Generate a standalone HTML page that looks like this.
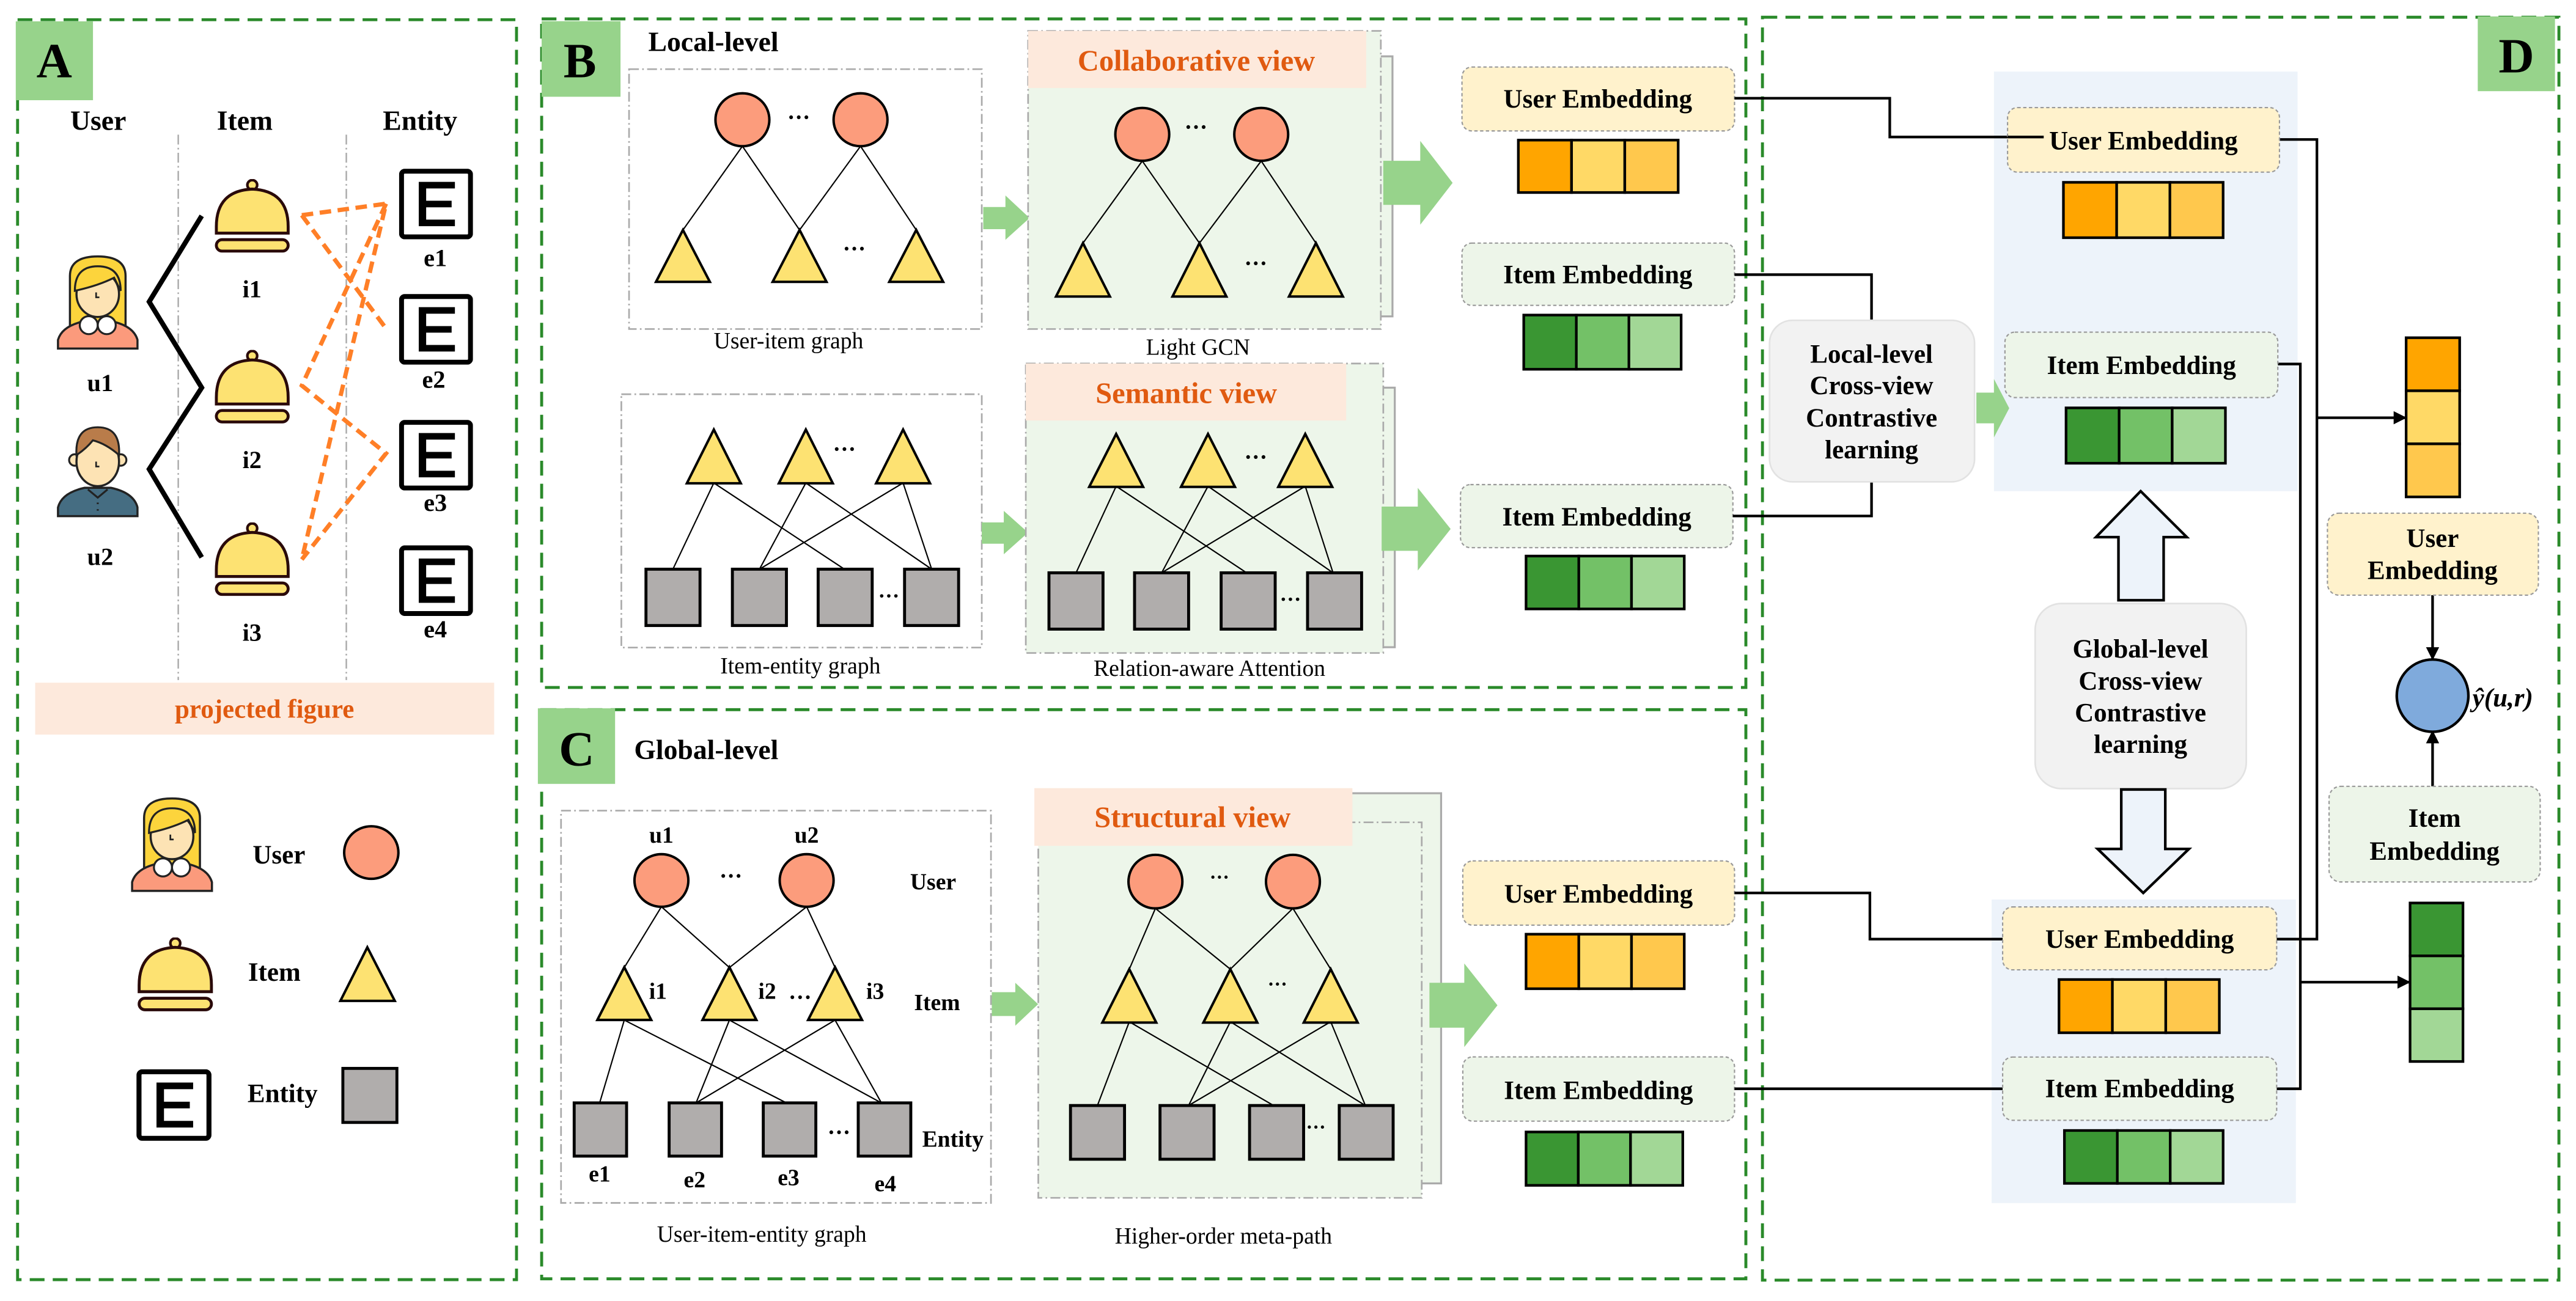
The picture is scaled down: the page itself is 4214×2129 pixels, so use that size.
<!DOCTYPE html>
<html><head><meta charset="utf-8"><style>
html,body{margin:0;padding:0;background:#fff;}
svg{display:block;}
text{font-family:"Liberation Serif",serif;}
.b{font-weight:bold;}
</style></head><body>
<svg width="4214" height="2129" viewBox="0 0 1568 792" preserveAspectRatio="none" xmlns="http://www.w3.org/2000/svg">
<defs>
<symbol id="fem" viewBox="0 0 50 58">
<path d="M8 44 V13 Q8 1 25 1 Q42 1 42 13 V44 Z" fill="#fcd43c" stroke="#222" stroke-width="1.3"/>
<path d="M0.7 57.3 V52 Q3 44 15 41 H35 Q47 44 49.3 52 V57.3 Z" fill="#fb9a7c" stroke="#222" stroke-width="1.3"/>
<ellipse cx="25" cy="24" rx="13" ry="14" fill="#fde3b4" stroke="#222" stroke-width="1.3"/>
<path d="M11 22 Q11 7 25 7 Q39 7 39 22 L35 14 Q25 19 11 22Z" fill="#fcd43c" stroke="#222" stroke-width="1.2"/>
<circle cx="19.5" cy="43" r="5.5" fill="#fff" stroke="#222" stroke-width="1.2"/>
<circle cx="30.5" cy="43" r="5.5" fill="#fff" stroke="#222" stroke-width="1.2"/>
<path d="M24 23 v3 h2" fill="none" stroke="#222" stroke-width="1"/>
</symbol>
<symbol id="mal" viewBox="0 0 50 58">
<path d="M0.7 57.3 V52 Q3 43 17 40 H33 Q47 43 49.3 52 V57.3 Z" fill="#456d82" stroke="#222" stroke-width="1.3"/>
<circle cx="11" cy="23" r="3.5" fill="#fde3b4" stroke="#222" stroke-width="1.2"/>
<circle cx="39" cy="23" r="3.5" fill="#fde3b4" stroke="#222" stroke-width="1.2"/>
<ellipse cx="25" cy="24" rx="13" ry="15" fill="#fde3b4" stroke="#222" stroke-width="1.3"/>
<path d="M12 20 Q11 3 25 3 Q39 3 38 20 Q30 13 22 11 Q18 16 12 20Z" fill="#b97c4a" stroke="#222" stroke-width="1.2"/>
<path d="M19 41 L25 46 L31 41 M25 49 v1 M25 53 v1" fill="none" stroke="#222" stroke-width="1.2"/>
<path d="M24 24 v3 h2" fill="none" stroke="#222" stroke-width="1"/>
</symbol>
<symbol id="bell" viewBox="0 0 46 45">
<circle cx="23" cy="3.5" r="3" fill="#fde272" stroke="#2a0a0a" stroke-width="1.6"/>
<path d="M1 33 V29 Q1 7 23 6 Q45 7 45 29 V33 Z" fill="#fde272" stroke="#2a0a0a" stroke-width="1.8"/>
<rect x="1" y="37" width="44" height="7" rx="3.5" fill="#fde272" stroke="#2a0a0a" stroke-width="1.8"/>
</symbol>
<symbol id="ebox" viewBox="0 0 45 43">
<rect x="1.5" y="1.5" width="42" height="40" rx="2" fill="#fff" stroke="#000" stroke-width="3"/>
<path d="M12 8 H34 V12 H16.5 V19.5 H32 V23.5 H16.5 V31 H34 V35 H12 Z" fill="#000"/>
</symbol>
<marker id="ah" markerWidth="8" markerHeight="8" refX="7" refY="4" orient="auto" markerUnits="userSpaceOnUse"><path d="M0 0 L8 4 L0 8Z" fill="#000"/></marker>
</defs>

<!-- Panel borders -->
<g fill="none" stroke="#2a8a2a" stroke-width="1.8" stroke-dasharray="9 5">
<rect x="10.7" y="12" width="303.7" height="767"/>
<rect x="329.7" y="11.5" width="733" height="407"/>
<rect x="329.7" y="432" width="733" height="346.5"/>
<rect x="1072.8" y="10.5" width="484.8" height="768.8"/>
</g>
<rect x="9.6" y="13" width="47" height="48" fill="#97d38b"/>
<text x="33" y="47" font-size="30" class="b" text-anchor="middle">A</text>
<rect x="329.7" y="12.9" width="48" height="46" fill="#97d38b"/>
<text x="353" y="47" font-size="30" class="b" text-anchor="middle">B</text>
<rect x="327.4" y="431.2" width="47" height="46" fill="#97d38b"/>
<text x="351" y="466" font-size="30" class="b" text-anchor="middle">C</text>
<rect x="1508.2" y="10" width="47" height="45.5" fill="#97d38b"/>
<text x="1531.7" y="44" font-size="30" class="b" text-anchor="middle">D</text>

<!-- Panel A -->
<g font-size="17" class="b" text-anchor="middle">
<text x="59.8" y="79">User</text><text x="149" y="79">Item</text><text x="255.7" y="79">Entity</text>
</g>
<g stroke="#aaa" stroke-width="0.9" stroke-dasharray="6 2 1 2">
<line x1="108.5" y1="82" x2="108.5" y2="414"/><line x1="210.8" y1="82" x2="210.8" y2="414"/>
</g>
<use href="#fem" x="34.6" y="155" width="49.8" height="58"/>
<use href="#mal" x="34.6" y="257" width="49.8" height="58"/>
<g font-size="15" class="b" text-anchor="middle">
<text x="61" y="238">u1</text><text x="61" y="344">u2</text>
<text x="153.4" y="181">i1</text><text x="153.4" y="285">i2</text><text x="153.4" y="390">i3</text>
<text x="265" y="162">e1</text><text x="264" y="236">e2</text><text x="265" y="311">e3</text><text x="265" y="388">e4</text>
</g>
<polyline points="122.8,131.4 90.8,183.7 122.8,236 90.8,285.6 122.8,339.3" fill="none" stroke="#000" stroke-width="3"/>
<use href="#bell" x="130.7" y="109" width="45.7" height="45"/>
<use href="#bell" x="130.7" y="213" width="45.7" height="45"/>
<use href="#bell" x="130.7" y="318" width="45.7" height="45"/>
<use href="#ebox" x="242.9" y="102.7" width="45" height="43"/>
<use href="#ebox" x="242.9" y="179" width="45" height="43"/>
<use href="#ebox" x="242.9" y="255.6" width="45" height="43"/>
<use href="#ebox" x="242.9" y="332" width="45" height="43"/>
<g fill="none" stroke="#ff7f27" stroke-width="2.6" stroke-dasharray="7 4">
<polyline points="183.7,131 235,124 183.7,340.6"/>
<line x1="183.7" y1="131" x2="235" y2="200"/>
<polyline points="235,124 183.7,234.7 235,276 183.7,340.6"/>
</g>
<rect x="21.4" y="415.6" width="279.4" height="31.6" fill="#fde9dc"/>
<text x="161" y="437" font-size="16" class="b" fill="#e05a10" text-anchor="middle">projected figure</text>
<use href="#fem" x="79.7" y="484.8" width="50" height="58.5"/>
<text x="169.8" y="525.6" font-size="16" class="b" text-anchor="middle">User</text>
<ellipse cx="226" cy="519" rx="16.5" ry="16" fill="#fc9c7c" stroke="#000" stroke-width="1.5"/>
<use href="#bell" x="83.7" y="570.7" width="46" height="45"/>
<text x="167" y="597" font-size="16" class="b" text-anchor="middle">Item</text>
<path d="M223.6 576.7 L240.3 609.3 H207.2 Z" fill="#fde272" stroke="#000" stroke-width="1.5"/>
<use href="#ebox" x="82.9" y="650.9" width="46" height="43.6"/>
<text x="172" y="671" font-size="16" class="b" text-anchor="middle">Entity</text>
<rect x="208.7" y="650.4" width="32.9" height="32.9" fill="#b0adac" stroke="#000" stroke-width="1.8"/>

<!-- Panel B -->
<text x="394.6" y="31" font-size="17" class="b">Local-level</text>
<rect x="382.9" y="42.1" width="214.7" height="158.2" fill="none" stroke="#aaa" stroke-width="1" stroke-dasharray="6 2 1 2"/>
<text x="480" y="212" font-size="14" text-anchor="middle">User-item graph</text>
<g stroke="#000" stroke-width="0.8">
<line x1="451.9" y1="89" x2="415.7" y2="140"/><line x1="451.9" y1="89" x2="486.7" y2="140"/>
<line x1="523.8" y1="89" x2="486.7" y2="140"/><line x1="523.8" y1="89" x2="557.7" y2="140"/>
</g>
<g fill="#fc9c7c" stroke="#000" stroke-width="1.5">
<ellipse cx="451.9" cy="72.9" rx="16.4" ry="16.1"/><ellipse cx="523.8" cy="72.9" rx="16.4" ry="16.1"/>
</g>
<g fill="#fde272" stroke="#000" stroke-width="1.5">
<path d="M415.7 140 L432.1 171.6 H399.3Z"/><path d="M486.7 140 L503.1 171.6 H470.3Z"/><path d="M557.7 140 L574.1 171.6 H541.3Z"/>
</g>
<text x="486.2" y="76" font-size="14" class="b" text-anchor="middle">···</text>
<text x="520" y="156" font-size="14" class="b" text-anchor="middle">···</text>
<path d="M598.5 126 H612 V119 L626.7 132.7 L612 146 V139.5 H598.5Z" fill="#97d38b"/>
<!-- collaborative -->
<rect x="633" y="34.3" width="214.6" height="158.3" fill="#edf6ea" stroke="#aaa" stroke-width="1.2"/>
<rect x="625.8" y="18.8" width="214.7" height="181.5" fill="#edf6ea" stroke="#aaa" stroke-width="1" stroke-dasharray="6 2 1 2"/>
<rect x="625.8" y="18.8" width="205.8" height="34.8" fill="#fde9dc"/>
<text x="728.2" y="43" font-size="18" class="b" fill="#e05a10" text-anchor="middle">Collaborative view</text>
<g stroke="#000" stroke-width="0.8">
<line x1="695.3" y1="98" x2="659.2" y2="148"/><line x1="695.3" y1="98" x2="730.1" y2="148"/>
<line x1="767.7" y1="98" x2="730.1" y2="148"/><line x1="767.7" y1="98" x2="801" y2="148"/>
</g>
<g fill="#fc9c7c" stroke="#000" stroke-width="1.5">
<ellipse cx="695.3" cy="81.8" rx="16.4" ry="16.1"/><ellipse cx="767.7" cy="81.8" rx="16.4" ry="16.1"/>
</g>
<g fill="#fde272" stroke="#000" stroke-width="1.5">
<path d="M659.2 148 L675.6 180.5 H642.8Z"/><path d="M730.1 148 L746.5 180.5 H713.7Z"/><path d="M801 148 L817.4 180.5 H784.6Z"/>
</g>
<text x="728" y="82" font-size="14" class="b" text-anchor="middle">···</text>
<text x="764.4" y="165" font-size="14" class="b" text-anchor="middle">···</text>
<text x="729.2" y="216" font-size="14" text-anchor="middle">Light GCN</text>
<path d="M842 97.9 H864.5 V85.8 L884.2 111.3 L864.5 136.8 V124.7 H842Z" fill="#97d38b"/>
<rect x="889.9" y="40.8" width="165.9" height="38.9" rx="6" fill="#fff2cc" stroke="#999" stroke-width="0.8" stroke-dasharray="2 1.5"/>
<text x="972.6" y="65.5" font-size="16" class="b" text-anchor="middle">User Embedding</text>
<g stroke="#000" stroke-width="1.6"><rect x="924.2" y="85.3" width="32.4" height="31.9" fill="#ffa500"/><rect x="956.6" y="85.3" width="32.4" height="31.9" fill="#ffd966"/><rect x="989" y="85.3" width="32.5" height="31.9" fill="#ffc84d"/></g>
<rect x="889.9" y="148" width="165.9" height="37.9" rx="6" fill="#edf5e9" stroke="#999" stroke-width="0.8" stroke-dasharray="2 1.5"/>
<text x="972.6" y="172.5" font-size="16" class="b" text-anchor="middle">Item Embedding</text>
<g stroke="#000" stroke-width="1.6"><rect x="927.5" y="191.8" width="32" height="33" fill="#3a9633"/><rect x="959.5" y="191.8" width="32" height="33" fill="#73c167"/><rect x="991.5" y="191.8" width="31.8" height="33" fill="#a2d796"/></g>
<!-- item-entity -->
<rect x="378.2" y="240" width="219.4" height="154.2" fill="none" stroke="#aaa" stroke-width="1" stroke-dasharray="6 2 1 2"/>
<text x="487.2" y="410" font-size="14" text-anchor="middle">Item-entity graph</text>
<g stroke="#000" stroke-width="0.8">
<line x1="434.5" y1="294" x2="409.6" y2="346.5"/><line x1="434.5" y1="294" x2="514" y2="346.5"/>
<line x1="490.5" y1="294" x2="462.3" y2="346.5"/><line x1="490.5" y1="294" x2="567.1" y2="346.5"/>
<line x1="549.7" y1="294" x2="462.3" y2="346.5"/><line x1="549.7" y1="294" x2="567.1" y2="346.5"/>
</g>
<g fill="#fde272" stroke="#000" stroke-width="1.5">
<path d="M434.5 261.5 L450.9 294.2 H418.1Z"/><path d="M490.5 261.5 L506.9 294.2 H474.1Z"/><path d="M549.7 261.5 L566.1 294.2 H533.3Z"/>
</g>
<g fill="#b0adac" stroke="#000" stroke-width="1.8">
<rect x="393.2" y="346.5" width="32.9" height="34.3"/><rect x="445.8" y="346.5" width="32.9" height="34.3"/><rect x="498" y="346.5" width="32.9" height="34.3"/><rect x="550.6" y="346.5" width="32.9" height="34.3"/>
</g>
<text x="514" y="278" font-size="14" class="b" text-anchor="middle">···</text>
<text x="541" y="367" font-size="13" class="b" text-anchor="middle">···</text>
<path d="M597.6 318 H611 V311 L625.8 324.2 L611 337.4 V331 H597.6Z" fill="#97d38b"/>
<!-- semantic -->
<rect x="631" y="236" width="218" height="158" fill="#edf6ea" stroke="#aaa" stroke-width="1.2"/>
<rect x="624.4" y="221.3" width="217.6" height="176.2" fill="#edf6ea" stroke="#aaa" stroke-width="1" stroke-dasharray="6 2 1 2"/>
<rect x="624.4" y="221.3" width="195" height="34.7" fill="#fde9dc"/>
<text x="722.1" y="245.4" font-size="18" class="b" fill="#e05a10" text-anchor="middle">Semantic view</text>
<g stroke="#000" stroke-width="0.8">
<line x1="679.4" y1="296" x2="655" y2="348.7"/><line x1="679.4" y1="296" x2="758.8" y2="348.7"/>
<line x1="735.3" y1="296" x2="707.1" y2="348.7"/><line x1="735.3" y1="296" x2="811.4" y2="348.7"/>
<line x1="794.5" y1="296" x2="707.1" y2="348.7"/><line x1="794.5" y1="296" x2="811.4" y2="348.7"/>
</g>
<g fill="#fde272" stroke="#000" stroke-width="1.5">
<path d="M679.4 264.2 L695.8 296.4 H663Z"/><path d="M735.3 264.2 L751.7 296.4 H718.9Z"/><path d="M794.5 264.2 L810.9 296.4 H778.1Z"/>
</g>
<g fill="#b0adac" stroke="#000" stroke-width="1.8">
<rect x="638.5" y="348.7" width="32.9" height="34.3"/><rect x="690.6" y="348.7" width="32.9" height="34.3"/><rect x="743.3" y="348.7" width="32.9" height="34.3"/><rect x="795.9" y="348.7" width="32.9" height="34.3"/>
</g>
<text x="764.4" y="283" font-size="14" class="b" text-anchor="middle">···</text>
<text x="785.5" y="369" font-size="13" class="b" text-anchor="middle">···</text>
<text x="736.2" y="411.5" font-size="14" text-anchor="middle">Relation-aware Attention</text>
<path d="M841 308.4 H863 V297 L883 322 L863 347.3 V335.3 H841Z" fill="#97d38b"/>
<rect x="889" y="295" width="165.8" height="38.4" rx="6" fill="#edf5e9" stroke="#999" stroke-width="0.8" stroke-dasharray="2 1.5"/>
<text x="972" y="320" font-size="16" class="b" text-anchor="middle">Item Embedding</text>
<g stroke="#000" stroke-width="1.6"><rect x="928.9" y="338.5" width="32.1" height="32.2" fill="#3a9633"/><rect x="961" y="338.5" width="32.1" height="32.2" fill="#73c167"/><rect x="993.1" y="338.5" width="32.1" height="32.2" fill="#a2d796"/></g>

<!-- Panel C -->
<text x="386" y="462" font-size="17" class="b">Global-level</text>
<rect x="341.5" y="493.5" width="261.7" height="238.8" fill="none" stroke="#aaa" stroke-width="1" stroke-dasharray="6 2 1 2"/>
<text x="463.7" y="756" font-size="14" text-anchor="middle">User-item-entity graph</text>
<g font-size="14" class="b" text-anchor="middle">
<text x="402.6" y="513">u1</text><text x="491" y="513">u2</text>
<text x="568" y="541.4">User</text><text x="570.4" y="615">Item</text><text x="580" y="698">Entity</text>
<text x="365" y="719.3">e1</text><text x="422.8" y="722.8">e2</text><text x="480" y="721.6">e3</text><text x="538.9" y="725.2">e4</text>
<text x="400.5" y="608">i1</text><text x="467" y="608">i2</text><text x="487" y="608">…</text><text x="532.7" y="608">i3</text>
<text x="444.9" y="538">···</text><text x="510.7" y="694">···</text>
</g>
<g stroke="#000" stroke-width="0.8">
<line x1="402.6" y1="552" x2="380" y2="589"/><line x1="402.6" y1="552" x2="444" y2="589"/>
<line x1="491" y1="552" x2="444" y2="589"/><line x1="491" y1="552" x2="508.3" y2="589"/>
<line x1="380" y1="621" x2="365" y2="671.4"/><line x1="380" y1="621" x2="478.7" y2="671.4"/>
<line x1="444" y1="621" x2="423.7" y2="671.4"/><line x1="444" y1="621" x2="536.5" y2="671.4"/>
<line x1="508.3" y1="621" x2="423.7" y2="671.4"/><line x1="508.3" y1="621" x2="536.5" y2="671.4"/>
</g>
<g fill="#fc9c7c" stroke="#000" stroke-width="1.5">
<ellipse cx="402.6" cy="536" rx="16.4" ry="16"/><ellipse cx="491" cy="536" rx="16.4" ry="16"/>
</g>
<g fill="#fde272" stroke="#000" stroke-width="1.5">
<path d="M380 588.8 L396.4 620.9 H363.6Z"/><path d="M444 588.8 L460.4 620.9 H427.6Z"/><path d="M508.3 588.8 L524.7 620.9 H491.9Z"/>
</g>
<g fill="#b0adac" stroke="#000" stroke-width="1.8">
<rect x="349.5" y="671.4" width="31.9" height="32.4"/><rect x="407.3" y="671.4" width="31.9" height="32.4"/><rect x="464.6" y="671.4" width="32" height="32.4"/><rect x="522.4" y="671.4" width="32" height="32.4"/>
</g>
<path d="M603.7 604 H618 V598.3 L631.9 611.3 L618 624.4 V618.5 H603.7Z" fill="#97d38b"/>
<!-- structural -->
<rect x="638" y="482.9" width="239.2" height="237.5" fill="#edf6ea" stroke="#aaa" stroke-width="1.2"/>
<rect x="632" y="500.6" width="233.4" height="228.6" fill="#edf6ea" stroke="#aaa" stroke-width="1" stroke-dasharray="6 2 1 2"/>
<rect x="629.6" y="479.8" width="193.6" height="35.1" fill="#fde9dc"/>
<text x="725.9" y="503.5" font-size="18" class="b" fill="#e05a10" text-anchor="middle">Structural view</text>
<g stroke="#000" stroke-width="0.8">
<line x1="703.3" y1="553" x2="687.4" y2="590"/><line x1="703.3" y1="553" x2="748.9" y2="590"/>
<line x1="787" y1="553" x2="748.9" y2="590"/><line x1="787" y1="553" x2="810" y2="590"/>
<line x1="687.4" y1="622" x2="668" y2="673"/><line x1="687.4" y1="622" x2="775.2" y2="673"/>
<line x1="748.9" y1="622" x2="723.5" y2="673"/><line x1="748.9" y1="622" x2="831.1" y2="673"/>
<line x1="810" y1="622" x2="723.5" y2="673"/><line x1="810" y1="622" x2="831.1" y2="673"/>
</g>
<g fill="#fc9c7c" stroke="#000" stroke-width="1.5">
<ellipse cx="703.3" cy="536.7" rx="16.4" ry="16.3"/><ellipse cx="787" cy="536.7" rx="16.4" ry="16.3"/>
</g>
<g fill="#fde272" stroke="#000" stroke-width="1.5">
<path d="M687.4 590 L703.8 622.5 H671Z"/><path d="M748.9 590 L765.3 622.5 H732.5Z"/><path d="M810 590 L826.4 622.5 H793.6Z"/>
</g>
<g fill="#b0adac" stroke="#000" stroke-width="1.8">
<rect x="651.6" y="673" width="32.9" height="32.7"/><rect x="706.1" y="673" width="32.9" height="32.7"/><rect x="760.6" y="673" width="32.9" height="32.7"/><rect x="815.2" y="673" width="32.8" height="32.7"/>
</g>
<g font-size="12" class="b" text-anchor="middle"><text x="742.3" y="538">···</text><text x="777.6" y="603">···</text><text x="801" y="690">···</text></g>
<text x="744.7" y="757" font-size="14" text-anchor="middle">Higher-order meta-path</text>
<path d="M870.1 598.3 H891.3 V586.5 L911.5 612 L891.3 637.4 V625.6 H870.1Z" fill="#97d38b"/>
<rect x="890.4" y="524.1" width="165.4" height="39.1" rx="6" fill="#fff2cc" stroke="#999" stroke-width="0.8" stroke-dasharray="2 1.5"/>
<text x="973" y="549.5" font-size="16" class="b" text-anchor="middle">User Embedding</text>
<g stroke="#000" stroke-width="1.6"><rect x="928.9" y="568.7" width="32.1" height="33.2" fill="#ffa500"/><rect x="961" y="568.7" width="32.1" height="33.2" fill="#ffd966"/><rect x="993.1" y="568.7" width="32.1" height="33.2" fill="#ffc84d"/></g>
<rect x="890.4" y="643.4" width="165.4" height="39.1" rx="6" fill="#edf5e9" stroke="#999" stroke-width="0.8" stroke-dasharray="2 1.5"/>
<text x="973" y="669" font-size="16" class="b" text-anchor="middle">Item Embedding</text>
<g stroke="#000" stroke-width="1.6"><rect x="928.9" y="689.1" width="31.8" height="32.5" fill="#3a9633"/><rect x="960.7" y="689.1" width="31.8" height="32.5" fill="#73c167"/><rect x="992.5" y="689.1" width="31.8" height="32.5" fill="#a2d796"/></g>

<!-- Panel D -->
<rect x="1213.7" y="43.6" width="184.8" height="255.4" fill="#edf3fa"/>
<rect x="1212.3" y="547.6" width="185.2" height="184.8" fill="#edf3fa"/>
<g fill="none" stroke="#000" stroke-width="1.6">
<polyline points="1055.8,59.8 1150.3,59.8 1150.3,83.4 1244,83.4"/>
<polyline points="1055.8,167.2 1139.2,167.2 1139.2,195"/>
<polyline points="1054.8,314.1 1139.2,314.1 1139.2,293.3"/>
<polyline points="1055.8,543.6 1138.2,543.6 1138.2,571.7 1219,571.7"/>
<line x1="1055.8" y1="662.8" x2="1219" y2="662.8"/>
<polyline points="1387.5,84.9 1410.3,84.9 1410.3,571.7 1385.8,571.7"/>
<polyline points="1386.5,221.6 1400.2,221.6 1400.2,662.8 1385.8,662.8"/>
<line x1="1410.3" y1="254.3" x2="1464" y2="254.3" marker-end="url(#ah)"/>
<line x1="1400.2" y1="597.9" x2="1466.3" y2="597.9" marker-end="url(#ah)"/>
<line x1="1480.7" y1="362.3" x2="1480.7" y2="401" marker-end="url(#ah)"/>
<line x1="1480.7" y1="478.7" x2="1480.7" y2="445.5" marker-end="url(#ah)"/>
</g>
<rect x="1222" y="65.5" width="165.5" height="39.3" rx="6" fill="#fff2cc" stroke="#999" stroke-width="0.8" stroke-dasharray="2 1.5"/>
<line x1="1222" y1="83.4" x2="1244" y2="83.4" stroke="#000" stroke-width="1.6"/>
<text x="1304.7" y="91" font-size="16" class="b" text-anchor="middle">User Embedding</text>
<g stroke="#000" stroke-width="1.6"><rect x="1256" y="111" width="32.4" height="33.7" fill="#ffa500"/><rect x="1288.4" y="111" width="32.4" height="33.7" fill="#ffd966"/><rect x="1320.8" y="111" width="32.4" height="33.7" fill="#ffc84d"/></g>
<rect x="1220.4" y="202.2" width="166.1" height="39.8" rx="6" fill="#edf5e9" stroke="#999" stroke-width="0.8" stroke-dasharray="2 1.5"/>
<text x="1303.5" y="227.6" font-size="16" class="b" text-anchor="middle">Item Embedding</text>
<g stroke="#000" stroke-width="1.6"><rect x="1257.6" y="248.3" width="32.3" height="33.7" fill="#3a9633"/><rect x="1289.9" y="248.3" width="32.3" height="33.7" fill="#73c167"/><rect x="1322.2" y="248.3" width="32.4" height="33.7" fill="#a2d796"/></g>
<rect x="1077.1" y="195" width="124.8" height="98.3" rx="14" fill="#f2f2f2" stroke="#e2e2e2" stroke-width="1"/>
<g font-size="16" class="b" text-anchor="middle">
<text x="1139.2" y="220.7">Local-level</text><text x="1139.2" y="240">Cross-view</text><text x="1139.2" y="259.7">Contrastive</text><text x="1139.2" y="279.1">learning</text>
</g>
<path d="M1203 239 H1213.7 V230.7 L1223 248.5 L1213.7 266.3 V257.7 H1203Z" fill="#97d38b"/>
<path d="M1303 299 L1331.1 327 H1317 V365.4 H1289.5 V327 H1275.8Z" fill="#edf3fa" stroke="#000" stroke-width="1.6"/>
<rect x="1238.8" y="367.4" width="128.5" height="112.7" rx="16" fill="#f2f2f2" stroke="#e2e2e2" stroke-width="1"/>
<g font-size="16" class="b" text-anchor="middle">
<text x="1302.9" y="400.2">Global-level</text><text x="1302.9" y="419.8">Cross-view</text><text x="1302.9" y="439.1">Contrastive</text><text x="1302.9" y="458.4">learning</text>
</g>
<path d="M1291.2 480.6 H1318 V516.8 H1332.4 L1304.6 543.6 L1276.8 516.8 H1291.2Z" fill="#edf3fa" stroke="#000" stroke-width="1.6"/>
<rect x="1219" y="552.1" width="166.8" height="38.3" rx="6" fill="#fff2cc" stroke="#999" stroke-width="0.8" stroke-dasharray="2 1.5"/>
<text x="1302.4" y="577" font-size="16" class="b" text-anchor="middle">User Embedding</text>
<g stroke="#000" stroke-width="1.6"><rect x="1253.3" y="596.3" width="32.5" height="32.4" fill="#ffa500"/><rect x="1285.8" y="596.3" width="32.5" height="32.4" fill="#ffd966"/><rect x="1318.3" y="596.3" width="32.6" height="32.4" fill="#ffc84d"/></g>
<rect x="1219" y="643.5" width="166.8" height="38.5" rx="6" fill="#edf5e9" stroke="#999" stroke-width="0.8" stroke-dasharray="2 1.5"/>
<text x="1302.4" y="668" font-size="16" class="b" text-anchor="middle">Item Embedding</text>
<g stroke="#000" stroke-width="1.6"><rect x="1256.6" y="688.2" width="32.2" height="32.2" fill="#3a9633"/><rect x="1288.8" y="688.2" width="32.2" height="32.2" fill="#73c167"/><rect x="1321" y="688.2" width="32.2" height="32.2" fill="#a2d796"/></g>
<g stroke="#000" stroke-width="1.6"><rect x="1464.6" y="205.6" width="32.6" height="32.3" fill="#ffa500"/><rect x="1464.6" y="237.9" width="32.6" height="32.3" fill="#ffd966"/><rect x="1464.6" y="270.2" width="32.6" height="32.3" fill="#ffc84d"/></g>
<rect x="1416.7" y="312.4" width="128.4" height="49.9" rx="7" fill="#fff2cc" stroke="#999" stroke-width="0.8" stroke-dasharray="2 1.5"/>
<text x="1480.7" y="333" font-size="16" class="b" text-anchor="middle">User</text>
<text x="1480.7" y="352.5" font-size="16" class="b" text-anchor="middle">Embedding</text>
<ellipse cx="1480.7" cy="423.5" rx="21.8" ry="22" fill="#7faadc" stroke="#000" stroke-width="1.6"/>
<text x="1505" y="430" font-size="16" class="b" font-style="italic">ŷ(u,r)</text>
<rect x="1417.7" y="478.7" width="128.5" height="58.2" rx="7" fill="#edf5e9" stroke="#999" stroke-width="0.8" stroke-dasharray="2 1.5"/>
<text x="1481.9" y="503.3" font-size="16" class="b" text-anchor="middle">Item</text>
<text x="1481.9" y="523.4" font-size="16" class="b" text-anchor="middle">Embedding</text>
<g stroke="#000" stroke-width="1.6"><rect x="1467" y="549.7" width="32.2" height="32.2" fill="#3a9633"/><rect x="1467" y="581.9" width="32.2" height="32.2" fill="#73c167"/><rect x="1467" y="614.1" width="32.2" height="32.1" fill="#a2d796"/></g>
</svg>
</body></html>
